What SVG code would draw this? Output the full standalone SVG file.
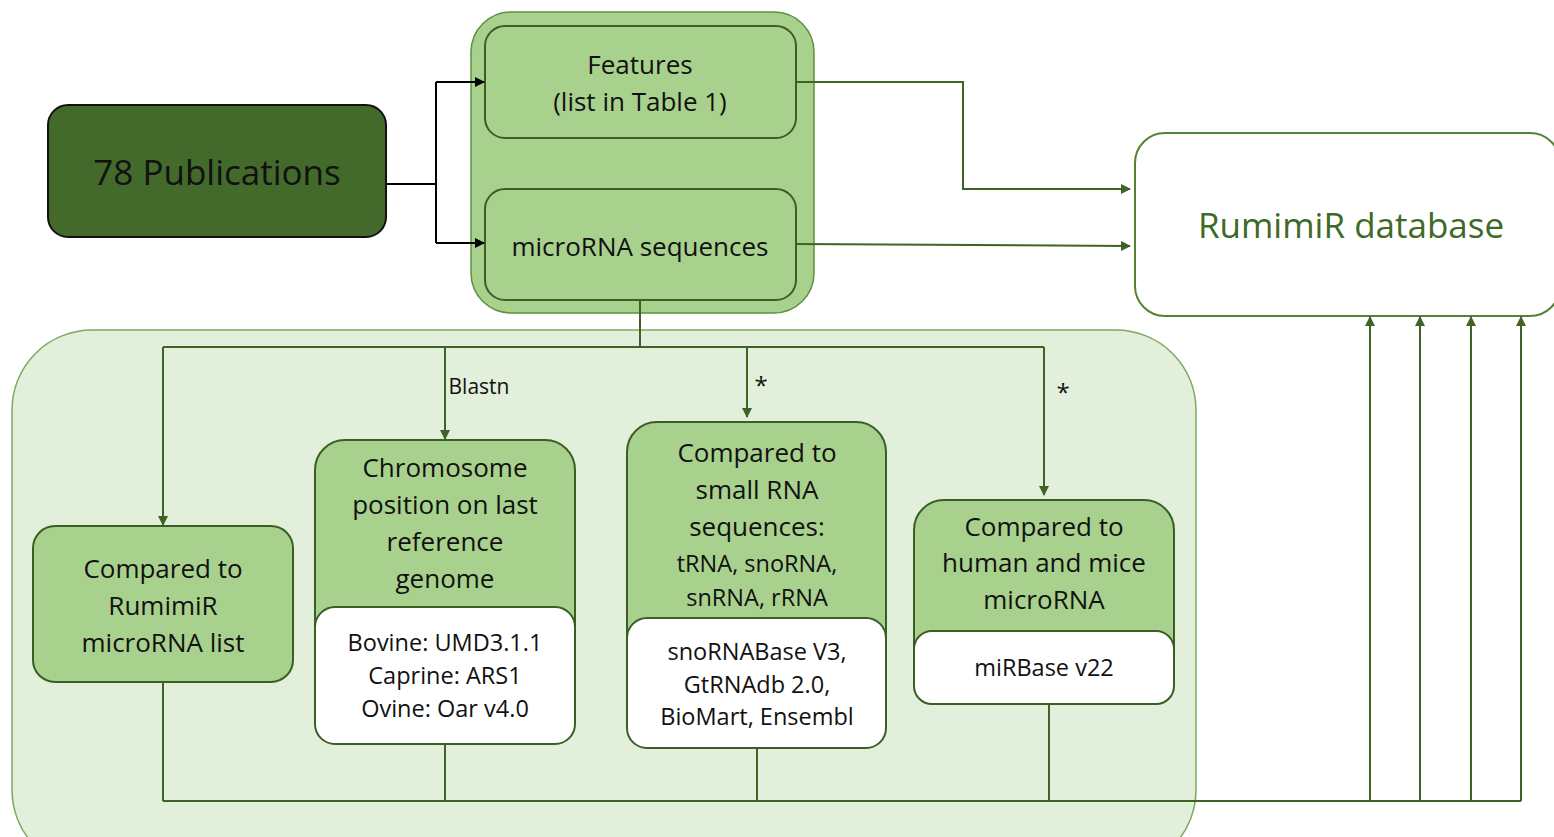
<svg xmlns="http://www.w3.org/2000/svg" width="1554" height="837" viewBox="0 0 1554 837">
<defs>
<style>
text{font-family:"Open Sans","Liberation Sans",sans-serif;fill:#111;text-anchor:middle}
.t24{font-size:26px}
.t21{font-size:23.5px}
.g{fill:#a9d18e;stroke:#3b5e25;stroke-width:2}
.w{fill:#fff;stroke:#3b5e25;stroke-width:2}
.c{fill:none;stroke:#3f6326;stroke-width:2}
.k{fill:none;stroke:#000;stroke-width:2}
</style>
<marker id="ag" viewBox="0 0 10 10" refX="9" refY="5" markerWidth="5" markerHeight="5" orient="auto"><path d="M0,0L10,5L0,10z" fill="#3f6326"/></marker>
<marker id="ak" viewBox="0 0 10 10" refX="9" refY="5" markerWidth="5" markerHeight="5" orient="auto"><path d="M0,0L10,5L0,10z" fill="#000"/></marker>
</defs>
<rect width="1554" height="837" fill="#fff"/>
<g id="bg-panel"><rect x="12" y="330" width="1184" height="540" rx="80" fill="#e2efda" stroke="#7daa5c" stroke-width="1.5"/></g>
<g id="sources"><rect x="471" y="12" width="343" height="301" rx="40" fill="#a9d18e" stroke="#5f8f40" stroke-width="1.5"/></g>
<g id="publications"><rect x="48" y="105" width="338" height="132" rx="20" fill="#436a2a" stroke="#111" stroke-width="2"/><text x="217" y="185" style="font-size:35px">78 Publications</text></g>
<g id="features"><rect class="g" x="485" y="26" width="311" height="112" rx="20"/><text class="t24" x="640" y="74">Features</text><text class="t24" x="640" y="111">(list in Table 1)</text></g>
<g id="mirna-seq"><rect class="g" x="485" y="189" width="311" height="111" rx="20"/><text class="t24" x="640" y="256">microRNA sequences</text></g>
<g id="database"><rect x="1135" y="133" width="425" height="183" rx="30" fill="#fff" stroke="#548235" stroke-width="2"/><text x="1351" y="238" style="font-size:35px;fill:#3d6a25">RumimiR database</text></g>
<g id="cmp-rumimir"><rect class="g" x="33" y="526" width="260" height="156" rx="22"/><text class="t24" x="163" y="578">Compared to</text><text class="t24" x="163" y="615">RumimiR</text><text class="t24" x="163" y="652">microRNA list</text></g>
<g id="chromosome"><rect class="g" x="315" y="440" width="260" height="304" rx="30"/><rect class="w" x="315" y="607" width="260" height="137" rx="20"/><text class="t24" x="445" y="477">Chromosome</text><text class="t24" x="445" y="514">position on last</text><text class="t24" x="445" y="551">reference</text><text class="t24" x="445" y="588">genome</text><text class="t21" x="445" y="651">Bovine: UMD3.1.1</text><text class="t21" x="445" y="684">Caprine: ARS1</text><text class="t21" x="445" y="717">Ovine: Oar v4.0</text></g>
<g id="small-rna"><rect class="g" x="627" y="422" width="259" height="326" rx="30"/><rect class="w" x="627" y="618" width="259" height="130" rx="20"/><text class="t24" x="757" y="462">Compared to</text><text class="t24" x="757" y="499">small RNA</text><text class="t24" x="757" y="536">sequences:</text><text class="t21" x="757" y="572">tRNA, snoRNA,</text><text class="t21" x="757" y="606">snRNA, rRNA</text><text class="t21" x="757" y="660">snoRNABase V3,</text><text class="t21" x="757" y="693">GtRNAdb 2.0,</text><text class="t21" x="757" y="725">BioMart, Ensembl</text></g>
<g id="human-mice"><rect class="g" x="914" y="500" width="260" height="204" rx="30"/><rect class="w" x="914" y="631" width="260" height="73" rx="18"/><text class="t24" x="1044" y="536">Compared to</text><text class="t24" x="1044" y="572">human and mice</text><text class="t24" x="1044" y="609">microRNA</text><text class="t21" x="1044" y="676">miRBase v22</text></g>
<g id="connectors">
<path class="k" d="M386,184H436M436,82V243"/>
<path class="k" d="M436,82H484" marker-end="url(#ak)"/>
<path class="k" d="M436,243H484" marker-end="url(#ak)"/>
<path class="c" d="M796,82H963V189H1130" marker-end="url(#ag)"/>
<path class="c" d="M796,244L1130,246" marker-end="url(#ag)"/>
<path class="c" d="M640,300V347M163,347H1044"/>
<path class="c" d="M163,347V525" marker-end="url(#ag)"/>
<path class="c" d="M445,347V439" marker-end="url(#ag)"/>
<path class="c" d="M747,347V417" marker-end="url(#ag)"/>
<path class="c" d="M1044,347V495" marker-end="url(#ag)"/>
<path class="c" d="M163,682V801M445,744V801M757,748V801M1049,704V801M163,801H1521"/>
<path class="c" d="M1370,801V317" marker-end="url(#ag)"/>
<path class="c" d="M1420,801V317" marker-end="url(#ag)"/>
<path class="c" d="M1471,801V317" marker-end="url(#ag)"/>
<path class="c" d="M1521,801V317" marker-end="url(#ag)"/>
<text x="479" y="394" style="font-size:21px">Blastn</text>
<text x="761" y="394" style="font-size:24px">*</text>
<text x="1063" y="401" style="font-size:24px">*</text>
</g>
</svg>
